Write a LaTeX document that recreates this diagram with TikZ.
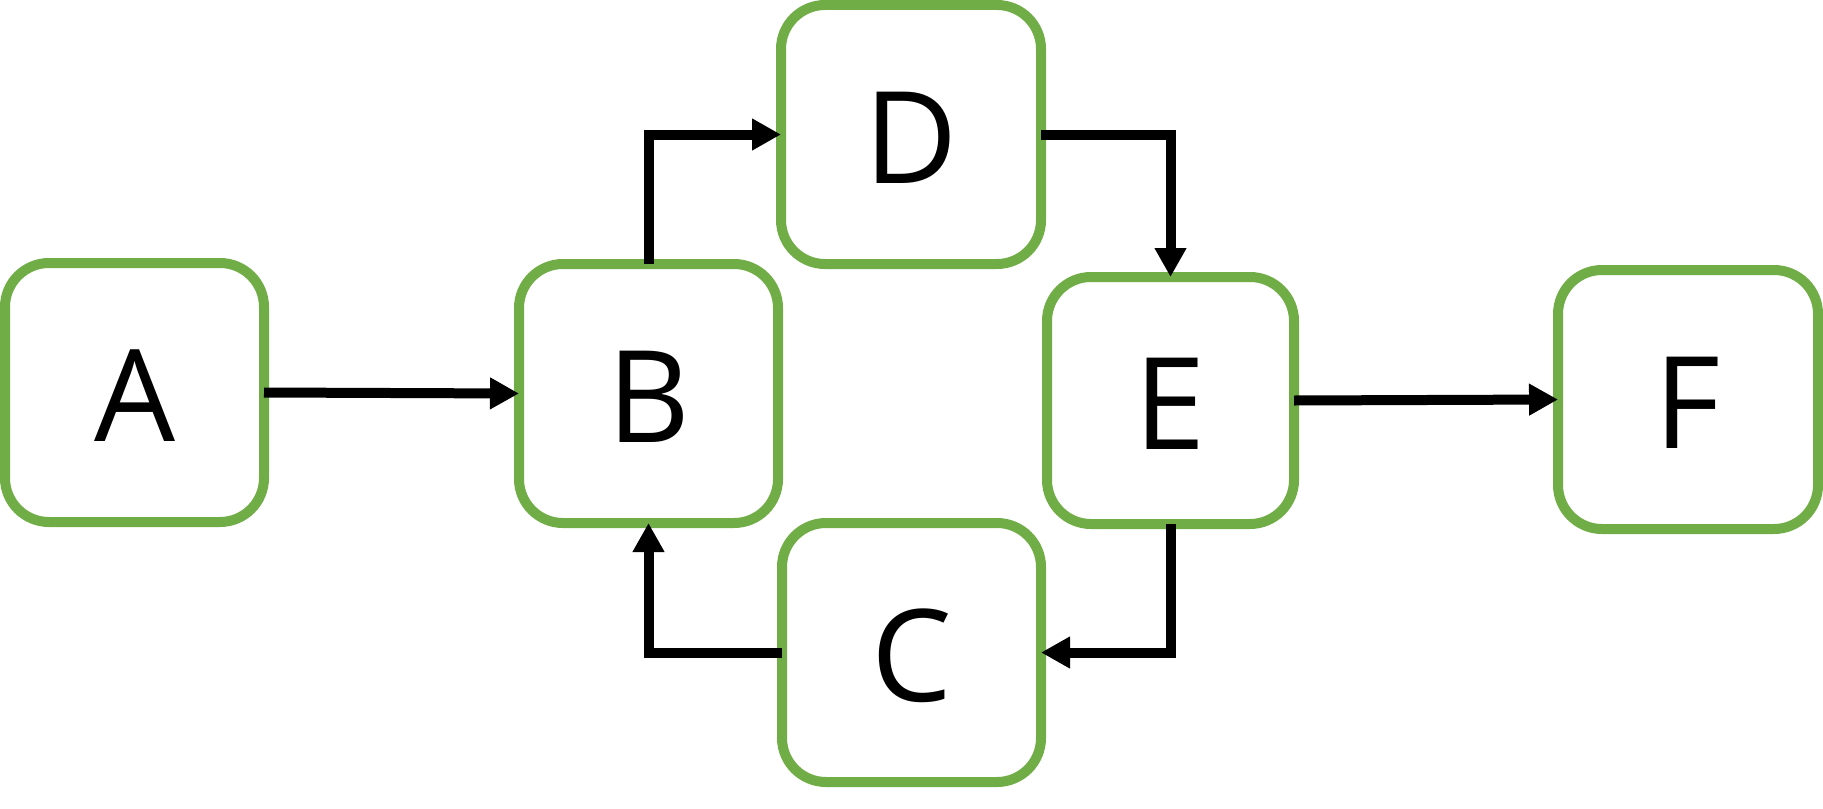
\documentclass[tikz,border=0pt]{standalone}
\usepackage{fontspec}
\setmainfont{Open Sans}
\usetikzlibrary{arrows.meta}
\definecolor{boxgreen}{RGB}{112,173,71}
\tikzset{
  box/.style={draw=boxgreen, line width=5pt, rounded corners=22pt, fill=white,
    inner sep=0pt, outer sep=0pt, minimum width=129.5pt, minimum height=129.5pt,
    font=\fontsize{64}{64}\selectfont, text height=48.7pt, text depth=0pt},
  smallbox/.style={box, minimum width=123.5pt, minimum height=123.5pt},
  conn/.style={draw=black, line width=5pt, line join=miter,
    -{Triangle[length=14.5pt, width=15pt]}}
}
\begin{document}
\begin{tikzpicture}[x=0.5pt, y=-0.5pt]
\useasboundingbox (0,0) rectangle (1823,808);
\node[box] (A) at (134.5,392.5) {A};
\node[box] (B) at (648.5,393.5) {B};
\node[box, minimum width=130pt] (D) at (911,134.5) {D};
\node[box] (C) at (911.5,652.5) {C};
\node[smallbox] (E) at (1170.5,400.5) {E};
\node[box, minimum width=130pt] (F) at (1688,399.5) {F};
\draw[conn] (A.east) -- (B.west);
\draw[conn] (B.north) |- (D.west);
\draw[conn] (D.east) -| (E.north);
\draw[conn] (E.south) |- (C.east);
\draw[conn] (C.west) -| (B.south);
\draw[conn] (E.east) -- (F.west);
\end{tikzpicture}
\end{document}
